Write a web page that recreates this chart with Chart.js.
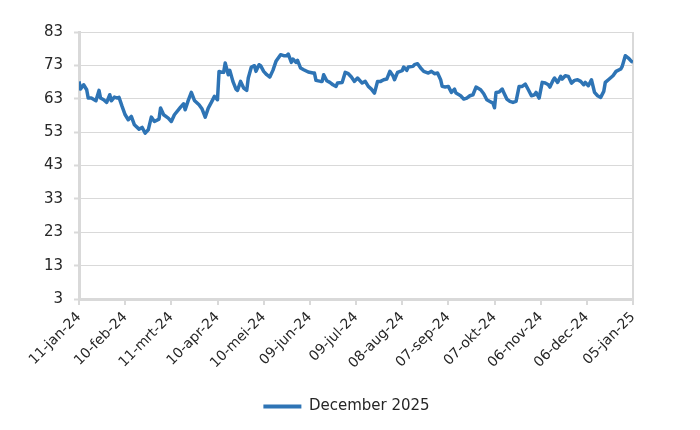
<!DOCTYPE html>
<html>
<head>
<meta charset="utf-8">
<script src="https://cdn.jsdelivr.net/npm/chart.js@4/dist/chart.umd.min.js"></script>
<style>
html,body{margin:0;padding:0;background:#fff;}
#wrap{width:700px;height:430px;}
</style>
</head>
<body>
<div id="wrap"><canvas id="c" width="700" height="430"></canvas></div>
<script>
// Tick labels every 30 days starting 11-jan-24
const tickLabels = ['11-jan-24','10-feb-24','11-mrt-24','10-apr-24','10-mei-24','09-jun-24','09-jul-24','08-aug-24','07-sep-24','07-okt-24','06-nov-24','06-dec-24','05-jan-25'];
const seriesName = 'December 2025';
// Day offset from 11-jan-24
const days = [0,1,3,5,6,8,11,13,14,16,18,20,21,23,25,26,28,30,32,34,36,39,41,43,45,47,49,52,53,55,58,60,62,66,68,69,71,73,75,78,80,82,84,86,88,90,91,92,94,95,97,98,100,102,103,105,107,109,110,112,114,115,117,118,120,122,124,126,128,131,133,135,136,138,139,141,142,144,146,149,152,153,154,157,158,159,161,163,165,167,168,171,173,175,177,179,181,184,186,188,190,192,194,196,198,200,202,204,205,207,210,211,213,214,217,218,220,222,224,227,229,231,233,235,236,238,240,242,244,245,248,250,252,254,256,258,261,263,265,267,269,270,271,273,275,276,278,280,282,284,286,288,290,292,294,296,297,299,301,303,305,306,308,309,311,313,314,316,318,320,322,324,326,328,329,331,333,335,337,339,341,342,344,347,349,352,353,355,357,359,360];
const values = [68.2,65.9,67.2,65.7,63.2,63.2,62.4,65.5,63.2,62.7,61.9,64.2,62.4,63.5,63.2,63.4,60.7,58.2,56.7,57.7,55.2,53.9,54.4,52.7,53.7,57.5,56.2,56.9,60.2,58.2,57.2,56.2,58.2,60.5,61.5,59.7,62.5,64.9,62.5,61.2,59.9,57.5,60.2,61.9,63.7,62.7,71.2,71.0,70.9,73.7,70.2,71.5,68.2,65.9,65.5,68.2,66.2,65.5,69.2,72.5,72.9,71.2,73.2,72.9,71.2,70.2,69.5,71.5,74.2,76.2,75.9,75.9,76.4,73.9,74.9,73.9,74.5,72.2,71.7,71.0,70.7,70.7,68.5,68.2,68.2,70.2,68.4,67.9,67.2,66.7,67.7,67.9,70.9,70.5,69.5,68.2,69.2,67.7,68.2,66.7,65.9,64.7,68.2,68.2,68.7,68.9,71.2,69.9,68.7,70.9,71.4,72.5,71.5,72.5,72.7,73.2,73.5,72.2,71.2,70.7,71.2,70.5,70.7,68.7,66.7,66.5,66.7,64.9,65.9,64.7,63.9,62.9,63.2,63.9,64.2,66.5,65.7,64.5,62.7,62.2,61.7,60.3,64.9,65.0,65.9,64.9,62.9,62.2,61.9,62.2,66.7,66.7,67.4,65.7,63.9,64.2,64.9,63.2,67.9,67.7,67.2,66.5,68.5,69.2,67.9,69.7,68.9,69.9,69.7,67.7,68.5,68.7,68.2,67.2,67.9,66.9,68.7,64.9,63.9,63.4,65.2,67.9,68.7,69.9,71.2,71.9,72.7,75.9,75.2,74.2,74.0];
const yMin = 3, yMax = 83, yStep = 10;

const grey = '#d9d9d9';
const txt = '#262626';
const fontFam = '"DejaVu Sans", "Liberation Sans", Arial, sans-serif';
const lineColor = '#2e74b5';

const shiftLegend = {
  id: 'shiftLegend',
  afterLayout(chart) {
    const lg = chart.legend;
    if (lg) { lg.left += 30; lg.right += 30; }
  }
};

new Chart(document.getElementById('c'), {
  type: 'line',
  data: {
    datasets: [{
      label: seriesName,
      data: days.map((d, i) => ({x: d, y: values[i]})),
      borderColor: lineColor,
      backgroundColor: lineColor,
      borderWidth: 3.5,
      pointRadius: 0,
      tension: 0,
      borderJoinStyle: 'round'
    }]
  },
  plugins: [shiftLegend],
  options: {
    responsive: false,
    animation: false,
    layout: {padding: {left: 0, right: 67, top: 32, bottom: 6}},
    plugins: {
      legend: {
        position: 'bottom',
        labels: {
          color: txt,
          font: {family: fontFam, size: 15},
          boxWidth: 38,
          boxHeight: 4,
          padding: 10,
          generateLabels: (chart) => Chart.defaults.plugins.legend.labels.generateLabels(chart).map(l => Object.assign(l, {lineWidth: 0, fillStyle: lineColor}))
        }
      },
      tooltip: {enabled: false}
    },
    scales: {
      x: {
        type: 'linear',
        min: 0, max: 360,
        afterFit: (s) => { s.height = 90; },
        ticks: {
          stepSize: 30,
          autoSkip: false,
          maxRotation: 45, minRotation: 45,
          color: txt,
          font: {family: fontFam, size: 14},
          padding: 4,
          callback: (v) => tickLabels[Math.round(v / 30)]
        },
        grid: {
          display: true,
          drawOnChartArea: true,
          color: (ctx) => ctx.index === tickLabels.length - 1 ? grey : 'rgba(0,0,0,0)',
          lineWidth: 2,
          tickLength: 6,
          tickColor: grey,
          tickWidth: 2
        },
        border: {display: true, color: grey, width: 3}
      },
      y: {
        min: yMin, max: yMax,
        afterFit: (s) => { s.width = 79; },
        ticks: {
          stepSize: yStep,
          color: txt,
          font: {family: fontFam, size: 15},
          padding: 11
        },
        grid: {
          color: grey,
          lineWidth: 1,
          tickLength: 5,
          tickColor: grey,
          tickWidth: 2
        },
        border: {display: true, color: grey, width: 3}
      }
    }
  }
});
</script>
</body>
</html>
